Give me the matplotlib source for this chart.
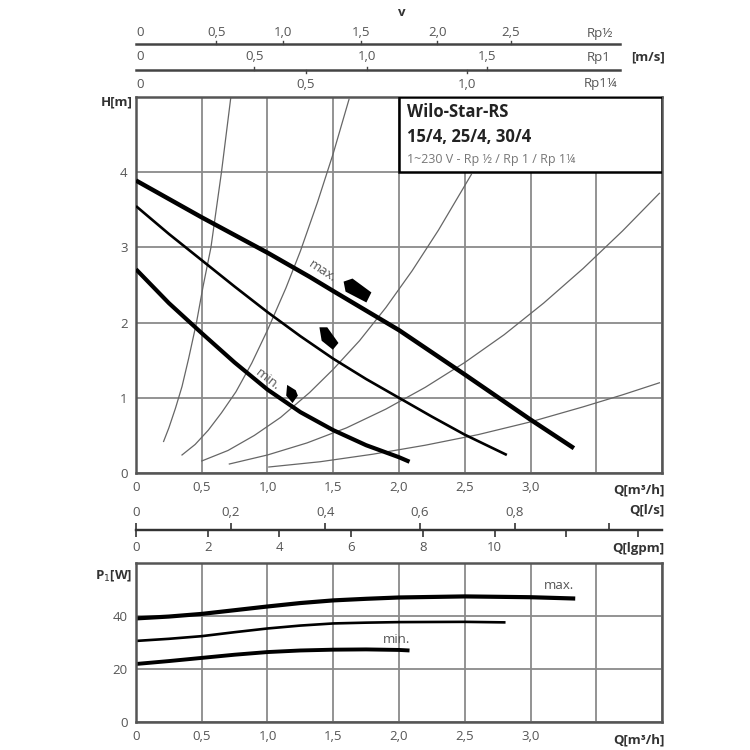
import matplotlib
matplotlib.use("Agg")
import matplotlib.pyplot as plt
from matplotlib.transforms import blended_transform_factory
from matplotlib.patches import Rectangle

plt.rcParams['font.family'] = ['Open Sans', 'DejaVu Sans']

# ---------------- data ----------------
# pump curves H(Q)
q_max = [0, 0.5, 1.0, 1.32, 1.5, 2.0, 2.5, 3.0, 3.33]
h_max = [3.89, 3.40, 2.93, 2.61, 2.42, 1.90, 1.31, 0.71, 0.33]
q_mid = [0, 0.25, 0.5, 0.75, 1.0, 1.25, 1.5, 1.75, 2.0, 2.25, 2.5, 2.82]
h_mid = [3.55, 3.18, 2.83, 2.48, 2.14, 1.82, 1.52, 1.25, 1.00, 0.75, 0.51, 0.24]
q_min = [0, 0.25, 0.5, 0.75, 1.0, 1.25, 1.5, 1.75, 2.0, 2.08]
h_min = [2.71, 2.26, 1.86, 1.47, 1.11, 0.81, 0.57, 0.37, 0.21, 0.15]

# system curves (thin)
sys_q = [
    [0.21, 0.25, 0.30, 0.35, 0.40, 0.46, 0.51, 0.57, 0.61, 0.65, 0.72],
    [0.35, 0.45, 0.55, 0.65, 0.76, 0.88, 1.00, 1.14, 1.25, 1.38, 1.50, 1.62],
    [0.50, 0.70, 0.90, 1.10, 1.32, 1.50, 1.70, 1.90, 2.10, 2.30, 2.55],
    [0.71, 1.00, 1.30, 1.60, 1.90, 2.20, 2.50, 2.80, 3.10, 3.40, 3.70, 3.98],
    [1.01, 1.40, 1.80, 2.20, 2.60, 3.00, 3.40, 3.70, 3.98],
]
sys_h = [
    [0.42, 0.60, 0.86, 1.15, 1.52, 2.00, 2.48, 3.00, 3.50, 4.00, 4.98],
    [0.24, 0.38, 0.57, 0.80, 1.08, 1.46, 1.90, 2.46, 2.95, 3.60, 4.25, 4.97],
    [0.16, 0.30, 0.50, 0.74, 1.07, 1.38, 1.76, 2.20, 2.69, 3.23, 3.97],
    [0.12, 0.24, 0.40, 0.60, 0.85, 1.14, 1.47, 1.84, 2.26, 2.72, 3.22, 3.72],
    [0.08, 0.15, 0.25, 0.37, 0.51, 0.68, 0.88, 1.04, 1.20],
]

# setting markers (Q, H)
mark_q = [1.68, 1.47, 1.19]
mark_h = [2.43, 1.80, 1.07]
mark_s = [400, 260, 190]

# power curves P1(Q)
pq_max = [0, 0.25, 0.5, 0.75, 1.0, 1.25, 1.5, 1.75, 2.0, 2.5, 3.0, 3.34]
p_max = [39.1, 39.8, 40.8, 42.2, 43.6, 44.9, 45.9, 46.5, 47.0, 47.4, 47.1, 46.6]
pq_mid = [0, 0.25, 0.5, 0.75, 1.0, 1.25, 1.5, 1.75, 2.0, 2.5, 2.81]
p_mid = [30.6, 31.4, 32.4, 33.9, 35.3, 36.4, 37.2, 37.5, 37.7, 37.8, 37.6]
pq_min = [0, 0.25, 0.5, 0.75, 1.0, 1.25, 1.5, 1.75, 2.0, 2.08]
p_min = [21.9, 23.0, 24.2, 25.4, 26.4, 27.0, 27.3, 27.4, 27.2, 27.0]

# axis tick labels
q_ticks = [0, 0.5, 1.0, 1.5, 2.0, 2.5, 3.0, 3.5, 4.0]
q_labels = ['0', '0,5', '1,0', '1,5', '2,0', '2,5', '3,0', '', '']
h_ticks = [0, 1, 2, 3, 4, 5]
h_labels = ['0', '1', '2', '3', '4', '']
p_ticks = [0, 20, 40, 60]
p_labels = ['0', '20', '40', '']

ls_ticks = [0, 0.2, 0.4, 0.6, 0.8, 1.0]
ls_labels = ['0', '0,2', '0,4', '0,6', '0,8', '']
gpm_ticks = [0, 2, 4, 6, 8, 10, 12, 14]
gpm_labels = ['0', '2', '4', '6', '8', '10', '', '']

# velocity scales: label text and Q position where it sits
v12_labels = ['0', '0,5', '1,0', '1,5', '2,0', '2,5']
v12_q = [0.03, 0.61, 1.12, 1.71, 2.29, 2.85]
v1_labels = ['0', '0,5', '1,0', '1,5']
v1_q = [0.03, 0.90, 1.76, 2.67]
v114_labels = ['0', '0,5', '1,0']
v114_q = [0.03, 1.29, 2.52]

# ---------------- figure ----------------
TXT = '#555555'
GRID = '#8a8a8a'
fig = plt.figure(figsize=(7.5, 7.5), dpi=100)
ax = fig.add_axes([0.1813, 0.3693, 0.7014, 0.5013])
ax2 = fig.add_axes([0.1813, 0.0373, 0.7014, 0.212])

for a in (ax, ax2):
    a.set_xlim(0, 4)
    a.set_xticks(q_ticks, q_labels)
    a.grid(True, color=GRID, lw=1.3)
    a.set_axisbelow(True)
    a.tick_params(length=0, labelsize=9.5, labelcolor=TXT, pad=6)
    for sp in a.spines.values():
        sp.set_color('#555555')
        sp.set_linewidth(1.8)

ax.set_ylim(0, 5)
ax.set_yticks(h_ticks, h_labels)
ax2.set_ylim(0, 60)
ax2.set_yticks(p_ticks, p_labels)

# system curves
for xs, ys in zip(sys_q, sys_h):
    ax.plot(xs, ys, color='#666666', lw=0.9, zorder=2)

# pump curves
ax.plot(q_max, h_max, color='black', lw=3.2, solid_capstyle='butt', zorder=4)
ax.plot(q_mid, h_mid, color='black', lw=1.9, solid_capstyle='butt', zorder=4)
ax.plot(q_min, h_min, color='black', lw=3.0, solid_capstyle='butt', zorder=4)

# markers (shape of each setting flag)
flags = [
    [(-0.5, 0.32), (-0.18, 0.43), (0.5, -0.07), (0.32, -0.43), (-0.43, -0.04)],
    [(-0.45, 0.5), (-0.1, 0.5), (0.4, -0.2), (0.15, -0.5), (-0.35, -0.1)],
    [(-0.28, 0.45), (0.17, 0.17), (0.28, -0.11), (0.0, -0.5), (-0.33, -0.11)],
]
for q, h, s, fl in zip(mark_q, mark_h, mark_s, flags):
    ax.scatter([q], [h], s=s, marker=fl, color='black', zorder=5, linewidths=0)

ax.text(1.42, 2.68, 'max.', rotation=-33, color=TXT, fontsize=9.5, ha='center', va='center', zorder=5)
ax.text(1.00, 1.24, 'min.', rotation=-38, color=TXT, fontsize=9.5, ha='center', va='center', zorder=5)

# info box
ax.add_patch(Rectangle((2.0, 4.0), 2.0, 1.0, facecolor='white', edgecolor='black', lw=1.8, zorder=6))
ax.text(2.06, 4.80, 'Wilo-Star-RS', fontsize=12, fontweight='bold', color='#222222', va='center', zorder=7)
ax.text(2.06, 4.47, '15/4, 25/4, 30/4', fontsize=12, fontweight='bold', color='#222222', va='center', zorder=7)
ax.text(2.06, 4.17, '1~230 V - Rp ½ / Rp 1 / Rp 1¼', fontsize=9, color='#777777', va='center', zorder=7)

# power curves
ax2.plot(pq_max, p_max, color='black', lw=3.0, solid_capstyle='butt')
ax2.plot(pq_mid, p_mid, color='black', lw=1.9, solid_capstyle='butt')
ax2.plot(pq_min, p_min, color='black', lw=2.8, solid_capstyle='butt')
ax2.text(3.22, 51.5, 'max.', color=TXT, fontsize=9.5, ha='center', va='center')
ax2.text(1.98, 31.3, 'min.', color=TXT, fontsize=9.5, ha='center', va='center')

# axis titles
fig.text(0.177, 0.864, 'H[m]', fontsize=9.5, fontweight='bold', color='#333333', ha='right', va='center')
fig.text(0.177, 0.233, 'P$_1$[W]', fontsize=9.5, fontweight='bold', color='#333333', ha='right', va='center')
bt = blended_transform_factory(ax.transData, fig.transFigure)
fig.text(0.886, 0.3467, 'Q[m³/h]', fontsize=9.5, fontweight='bold', color='#333333', ha='right', va='center')
fig.text(0.886, 0.0133, 'Q[m³/h]', fontsize=9.5, fontweight='bold', color='#333333', ha='right', va='center')

# l/s and lgpm secondary scales
sec_ls = ax.secondary_xaxis(-0.1516, functions=(lambda q: q / 3.6, lambda v: v * 3.6))
sec_ls.set_alignment('top')
sec_ls.set_xticks(ls_ticks, ls_labels)
sec_ls.tick_params(direction='out', length=5, width=1.2, color='#333333', labelsize=9.5, labelcolor=TXT, pad=3)
sec_ls.spines['top'].set_linewidth(1.6)
sec_ls.spines['top'].set_color('#333333')

sec_g = ax.secondary_xaxis(-0.1516, functions=(lambda q: q / 0.2728, lambda g: g * 0.2728))
sec_g.set_xticks(gpm_ticks, gpm_labels)
sec_g.tick_params(direction='out', length=5, width=1.2, color='#333333', labelsize=9.5, labelcolor=TXT, pad=3)
sec_g.spines['bottom'].set_linewidth(1.6)
sec_g.spines['bottom'].set_color('#333333')

fig.text(0.886, 0.32, 'Q[l/s]', fontsize=9.5, fontweight='bold', color='#333333', ha='right', va='center')
fig.text(0.886, 0.2693, 'Q[lgpm]', fontsize=9.5, fontweight='bold', color='#333333', ha='right', va='center')

# velocity scales on top
line_end = 3.68
for yl in (0.9413, 0.9067):
    ax.plot([0, line_end], [yl, yl], transform=bt, color='#444444', lw=1.8, clip_on=False)
for lab, q in zip(v12_labels, v12_q):
    ax.text(q, 0.956, lab, transform=bt, fontsize=9.5, color=TXT, ha='center', va='center')
    if lab != '0':
        ax.plot([q, q], [0.9413, 0.9453], transform=bt, color='#444444', lw=1.0, clip_on=False)
for lab, q in zip(v1_labels, v1_q):
    ax.text(q, 0.924, lab, transform=bt, fontsize=9.5, color=TXT, ha='center', va='center')
    if lab != '0':
        ax.plot([q, q], [0.9067, 0.9107], transform=bt, color='#444444', lw=1.0, clip_on=False)
for lab, q in zip(v114_labels, v114_q):
    ax.text(q, 0.888, lab, transform=bt, fontsize=9.5, color=TXT, ha='center', va='center')
    if lab != '0':
        ax.plot([q, q], [0.9027, 0.9067], transform=bt, color='#444444', lw=1.0, clip_on=False)

ax.text(3.53, 0.956, 'Rp½', transform=bt, fontsize=9.5, color=TXT, ha='center', va='center')
ax.text(3.52, 0.924, 'Rp1', transform=bt, fontsize=9.5, color=TXT, ha='center', va='center')
ax.text(3.53, 0.888, 'Rp1¼', transform=bt, fontsize=9.5, color=TXT, ha='center', va='center')
fig.text(0.886, 0.924, '[m/s]', fontsize=9.5, fontweight='bold', color='#333333', ha='right', va='center')
fig.text(0.535, 0.984, 'v', fontsize=9.5, fontweight='bold', color='#333333', ha='center', va='center')

fig.savefig('out.png', dpi=100)
